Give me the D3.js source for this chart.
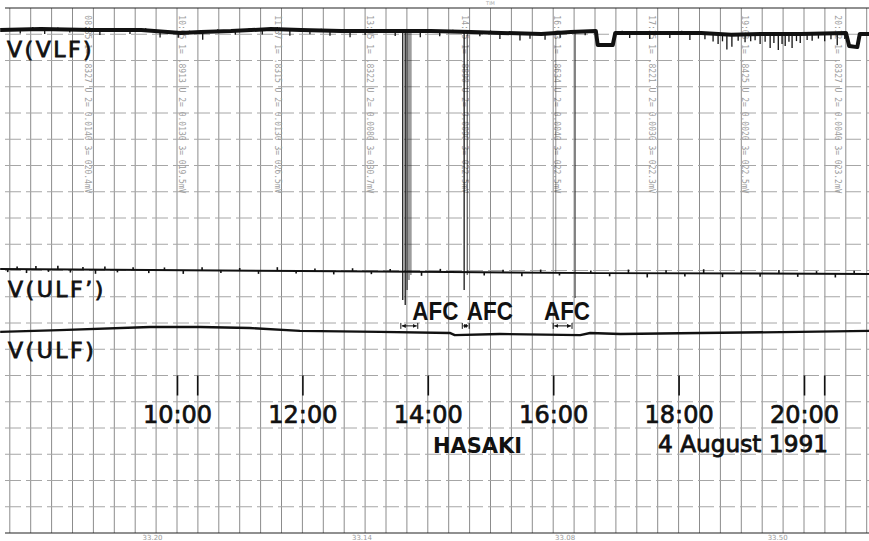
<!DOCTYPE html>
<html>
<head>
<meta charset="utf-8">
<script src="https://cdn.jsdelivr.net/npm/d3@7"></script>
<style>
  body { margin: 0; background: #fff; }
  svg { display: block; }
</style>
</head>
<body>
<div id="chart"></div>
<script>
// time in hours (local), level in chart divisions (20 rows on the paper, 0 = bottom edge)
const vlfTimes  = [7.18, 7.83, 8.63, 9.43, 10.06, 10.38, 10.86, 11.50, 11.98, 12.62, 13.25, 14.05, 14.69, 15.17, 15.81, 16.28, 16.68, 16.71, 16.95, 16.99, 17.72, 18.36, 18.84, 19.31, 19.95, 20.67, 20.72, 20.85, 20.89, 21.05];
const vlfLevels = [19.16, 19.20, 19.16, 19.16, 19.05, 19.09, 19.12, 19.20, 19.16, 19.12, 19.12, 19.12, 19.09, 19.05, 19.01, 19.09, 19.12, 18.59, 18.59, 19.05, 19.05, 19.05, 18.98, 19.01, 19.01, 19.05, 18.55, 18.51, 19.01, 19.01];

// pen spikes on V(VLF): [hour, depth in divisions] (negative = upward)
const vlfSpikes = [[7.50,.15],[7.70,-.08],[7.89,.19],[8.10,-.07],[8.29,.11],[8.55,-.08],[8.77,.19],[9.05,-.07],[9.25,.15],[9.50,-.08],[9.73,.23],[10.02,.19],[10.20,-.07],[10.41,.30],[10.65,-.08],[10.93,.15],[11.15,-.07],[11.36,.19],[11.60,-.08],[11.80,.23],[12.12,.15],[12.30,-.07],[12.44,.19],[12.60,-.08],[12.76,.23],[13.00,.15],[13.25,-.07],[13.48,.19],[13.88,.23],[14.00,-.07],[14.19,.19],[14.40,-.07],[14.83,.15],[15.00,-.08],[15.15,.23],[15.30,-.07],[15.47,.27],[15.63,.19],[15.87,.23],[16.11,.19],[16.30,-.07],[16.51,.15],[17.10,-.08],[17.22,.19],[17.40,-.07],[17.54,.23],[17.70,-.07],[17.86,.19],[18.05,-.08],[18.18,.27],[18.42,.23],[18.55,.30],[18.63,.38],[18.70,.27],[18.77,.57],[18.85,.46],[18.95,.23],[19.06,.30],[19.15,.27],[19.22,.23],[19.30,.38],[19.38,.30],[19.46,.53],[19.52,.34],[19.59,.61],[19.65,.38],[19.70,.46],[19.76,.30],[19.81,.53],[19.88,.27],[19.94,.34],[20.05,.23],[20.13,.27],[20.23,.19],[20.33,.30],[20.43,.23],[20.53,.46],[20.65,.23]];

const ulfpTimes  = [7.18, 9.57, 11.96, 14.35, 16.75, 21.04];
const ulfpLevels = [10.06, 10.02, 9.98, 9.94, 9.90, 9.87];
const ulfpSpikes = [[7.30,.12],[7.45,-.10],[7.60,.15],[7.75,-.12],[7.95,.10],[8.10,-.14],[8.30,.12],[8.50,-.10],[8.70,.16],[8.85,-.12],[9.05,.10],[9.30,-.10],[9.55,.12],[9.80,-.10],[10.10,.14],[10.40,-.12],[10.70,.10],[11.00,-.10],[11.30,.12],[11.60,-.14],[11.90,.10],[12.20,-.10],[12.50,.12],[12.80,-.12],[13.10,.10],[13.40,-.10],[13.90,.15],[14.20,-.12],[14.90,.12],[15.20,-.10],[15.50,.14],[15.80,-.12],[16.10,.10],[16.60,-.10],[16.90,.12],[17.20,-.14],[17.50,.16],[17.80,-.12],[18.10,.12],[18.40,-.16],[18.70,.14],[19.00,-.10],[19.30,.12],[19.60,-.14],[19.90,.12],[20.20,-.10],[20.50,.14],[20.80,-.12]];

const ulfTimes  = [7.18, 8.13, 9.57, 10.37, 11.16, 11.96, 13.24, 14.35, 14.43, 15.15, 16.43, 16.59, 17.07, 18.34, 19.94, 21.04];
const ulfLevels = [7.66, 7.73, 7.85, 7.85, 7.81, 7.70, 7.66, 7.62, 7.54, 7.58, 7.54, 7.62, 7.58, 7.62, 7.66, 7.70];

// AFC pen swings: [hour, lowest level reached, darkness]
const afcSwings = [[13.60, 8.88, 0.9],[13.64, 8.69, 0.9],[13.67, 9.26, 0.7],[13.70, 9.64, 0.6],[13.73, 9.83, 0.5],[14.58, 9.26, 0.9],[14.63, 9.83, 0.6],[16.04, 9.94, 0.35],[16.35, 8.95, 0.6]];
const afcSpans = [[13.57, 13.84], [14.55, 14.66], [16.00, 16.30]];

const hourTicks = [10, 12, 14, 16, 18, 20];
const minorTicks = [10.33, 20.33];

const noteTimes = [8.58, 10.08, 11.61, 13.08, 14.59, 16.06, 17.58, 19.06, 20.54];
const noteTexts = [
  '08:35 1= .8327 U 2= 0.0140 3= 020.4mV',
  '10:05 1= .8913 U 2= 0.0130 3= 019.5mV',
  '11:37 1= .8315 U 2= 0.0130 3= 026.5mV',
  '13:05 1= .8322 U 2= 0.0080 3= 030.7mV',
  '14:35 1= .8890 U 2= 0.0090 3= 022.5mV',
  '16:03 1= .8634 U 2= 0.0040 3= 022.5mV',
  '17:35 1= .8221 U 2= 0.0030 3= 022.3mV',
  '19:03 1= .8425 U 2= 0.0020 3= 022.5mV',
  '20:32 1= .8327 U 2= 0.0040 3= 023.2mV'
];
const footTimes = [9.61, 12.95, 16.19, 19.58];
const footTexts = ['33.20', '33.14', '33.08', '33.50'];


class StripChart {

  constructor() {
    this.width = 869;
    this.height = 541;
    this.svg = d3.select('#chart')
              .append('svg')
              .attr('width', this.width)
              .attr('height', this.height);
    this.x = d3.scaleLinear().domain([10, 20]).range([177, 804]);
    this.y = d3.scaleLinear().domain([0, 20]).range([533, 8]);
    this.font = "'DejaVu Sans', Arial, sans-serif";
  }

  drawGrid() {
    let x = this.x, y = this.y;
    let g = this.svg.append('g');

    g.selectAll('.vgrid')
      .data(d3.range(-8, 34).map(k => 10 + k / 3))
      .enter()
      .append('line')
      .attr('x1', d => x(d)).attr('x2', d => x(d))
      .attr('y1', y(20)).attr('y2', y(0))
      .attr('stroke', '#8c8c8c')
      .attr('stroke-width', 1);

    g.selectAll('.hgrid')
      .data(d3.range(0, 21))
      .enter()
      .append('line')
      .attr('x1', 5).attr('x2', this.width)
      .attr('y1', d => y(d)).attr('y2', d => y(d))
      .attr('stroke', d => (d == 0 || d == 20) ? '#222' : '#a6a6a6')
      .attr('stroke-width', d => (d == 0 || d == 20) ? 1.2 : 1)
      .attr('stroke-dasharray', d => (d == 0 || d == 20) ? null : '16,5');
  }

  drawNotes() {
    let x = this.x, y = this.y;
    this.svg.selectAll('.note')
      .data(noteTimes)
      .enter()
      .append('text')
      .attr('transform', d => `translate(${x(d)},${y(19.72)}) rotate(90)`)
      .attr('dy', '0.35em')
      .attr('font-family', "'DejaVu Sans Mono', monospace")
      .attr('font-size', 8)
      .attr('fill', '#9c9c9c')
      .text((d, i) => noteTexts[i]);

    this.svg.selectAll('.foot')
      .data(footTimes)
      .enter()
      .append('text')
      .attr('x', d => x(d))
      .attr('y', 540)
      .attr('text-anchor', 'middle')
      .attr('font-family', this.font)
      .attr('font-size', 7)
      .attr('fill', '#9a9a9a')
      .text((d, i) => footTexts[i]);

    this.svg.append('text')
      .attr('x', x(15.0)).attr('y', 5)
      .attr('text-anchor', 'middle')
      .attr('font-family', this.font)
      .attr('font-size', 5)
      .attr('fill', '#aaa')
      .text('TIM');
  }

  drawTrace(times, levels, spikes, width, spikeWidth) {
    let x = this.x, y = this.y;
    let pts = times.map((t, i) => [t, levels[i]]);
    let line = d3.line().x(d => x(d[0])).y(d => y(d[1]));
    let level = t => {
      let i = d3.bisectRight(times, t);
      i = Math.max(1, Math.min(times.length - 1, i));
      let f = (t - times[i - 1]) / (times[i] - times[i - 1]);
      return levels[i - 1] + f * (levels[i] - levels[i - 1]);
    };

    this.svg.append('path')
      .datum(pts)
      .attr('d', line)
      .attr('fill', 'none')
      .attr('stroke', '#111')
      .attr('stroke-width', width)
      .attr('stroke-linejoin', 'round');

    this.svg.append('g')
      .selectAll('line')
      .data(spikes)
      .enter()
      .append('line')
      .attr('x1', d => x(d[0])).attr('x2', d => x(d[0]))
      .attr('y1', d => y(level(d[0])))
      .attr('y2', d => y(level(d[0]) - d[1]))
      .attr('stroke', '#111')
      .attr('stroke-width', spikeWidth);

    return level;
  }

  drawAfc(vlfLevel) {
    let x = this.x, y = this.y;
    this.svg.append('g')
      .selectAll('line')
      .data(afcSwings)
      .enter()
      .append('line')
      .attr('x1', d => x(d[0])).attr('x2', d => x(d[0]))
      .attr('y1', d => y(vlfLevel(d[0])))
      .attr('y2', d => y(d[1]))
      .attr('stroke', '#111')
      .attr('stroke-opacity', d => d[2])
      .attr('stroke-width', 1.4);

    let defs = this.svg.append('defs');
    defs.append('marker')
      .attr('id', 'arr')
      .attr('viewBox', '0 0 6 6')
      .attr('refX', 6).attr('refY', 3)
      .attr('markerWidth', 4).attr('markerHeight', 4)
      .attr('orient', 'auto-start-reverse')
      .append('path')
      .attr('d', 'M0,0 L6,3 L0,6 Z')
      .attr('fill', '#111');

    let spans = this.svg.append('g').selectAll('g')
      .data(afcSpans)
      .enter()
      .append('g');
    let ay = y(7.89);
    spans.append('line')
      .attr('x1', d => x(d[0]) + 1).attr('x2', d => x(d[1]) - 1)
      .attr('y1', ay).attr('y2', ay)
      .attr('stroke', '#111').attr('stroke-width', 1)
      .attr('marker-start', 'url(#arr)')
      .attr('marker-end', 'url(#arr)');
    spans.append('line')
      .attr('x1', d => x(d[0])).attr('x2', d => x(d[0]))
      .attr('y1', ay - 3).attr('y2', ay + 3)
      .attr('stroke', '#111');
    spans.append('line')
      .attr('x1', d => x(d[1])).attr('x2', d => x(d[1]))
      .attr('y1', ay - 3).attr('y2', ay + 3)
      .attr('stroke', '#111');

    this.svg.selectAll('.afc')
      .data([14.12, 14.99, 16.22])
      .enter()
      .append('text')
      .attr('x', d => x(d))
      .attr('y', 320)
      .attr('text-anchor', 'middle')
      .attr('font-family', "'Liberation Sans', Arial, sans-serif")
      .attr('font-weight', 'bold')
      .attr('font-size', 25)
      .attr('textLength', 46)
      .attr('lengthAdjust', 'spacingAndGlyphs')
      .attr('fill', '#111')
      .text('AFC');
  }

  drawAxis() {
    let x = this.x, y = this.y;
    let axis = d3.axisBottom(x)
      .tickValues(hourTicks)
      .tickFormat(d => d + ':00')
      .tickSize(20);
    let g = this.svg.append('g')
      .attr('transform', `translate(0,${y(6)})`)
      .call(axis);
    g.select('.domain').remove();
    g.selectAll('.tick line').attr('stroke', '#111').attr('stroke-width', 1.6);
    g.selectAll('.tick text')
      .attr('y', 47).attr('dy', null)
      .attr('font-family', this.font)
      .attr('font-size', 24)
      .attr('fill', '#111')
      .attr('stroke', '#111').attr('stroke-width', 0.7);

    this.svg.append('g')
      .selectAll('line')
      .data(minorTicks)
      .enter()
      .append('line')
      .attr('x1', d => x(d)).attr('x2', d => x(d))
      .attr('y1', y(6)).attr('y2', y(6) + 20)
      .attr('stroke', '#111').attr('stroke-width', 1.6);
  }

  drawLabels() {
    let labels = [
      {t: 'V(VLF)', x: 7, y: 57},
      {t: 'V(ULF\u2019)', x: 8, y: 297},
      {t: 'V(ULF)', x: 8, y: 358}
    ];
    this.svg.selectAll('.lab')
      .data(labels)
      .enter()
      .append('text')
      .attr('x', d => d.x).attr('y', d => d.y)
      .attr('font-family', this.font)
      .attr('font-size', 22)
      .attr('letter-spacing', 2.5)
      .attr('fill', '#111')
      .attr('stroke', '#111').attr('stroke-width', 0.8)
      .text(d => d.t);

    this.svg.append('text')
      .attr('x', 433).attr('y', 453)
      .attr('font-family', this.font)
      .attr('font-weight', 'bold')
      .attr('font-size', 21)
      .attr('textLength', 89)
      .attr('lengthAdjust', 'spacingAndGlyphs')
      .attr('fill', '#111')
      .text('HASAKI');

    this.svg.append('text')
      .attr('x', 658).attr('y', 452)
      .attr('font-family', this.font)
      .attr('font-size', 23)
      .attr('textLength', 170)
      .attr('lengthAdjust', 'spacingAndGlyphs')
      .attr('fill', '#111')
      .attr('stroke', '#111').attr('stroke-width', 0.8)
      .text('4 August 1991');
  }

  update() {
    this.drawGrid();
    this.drawNotes();
    let vlfLevel = this.drawTrace(vlfTimes, vlfLevels, vlfSpikes, 4, 1.3);
    this.drawTrace(ulfpTimes, ulfpLevels, ulfpSpikes, 2, 1.6);
    this.drawTrace(ulfTimes, ulfLevels, [], 2.4, 1);
    this.drawAfc(vlfLevel);
    this.drawAxis();
    this.drawLabels();
  }
}

let chart = new StripChart();
chart.update();
</script>
</body>
</html>
